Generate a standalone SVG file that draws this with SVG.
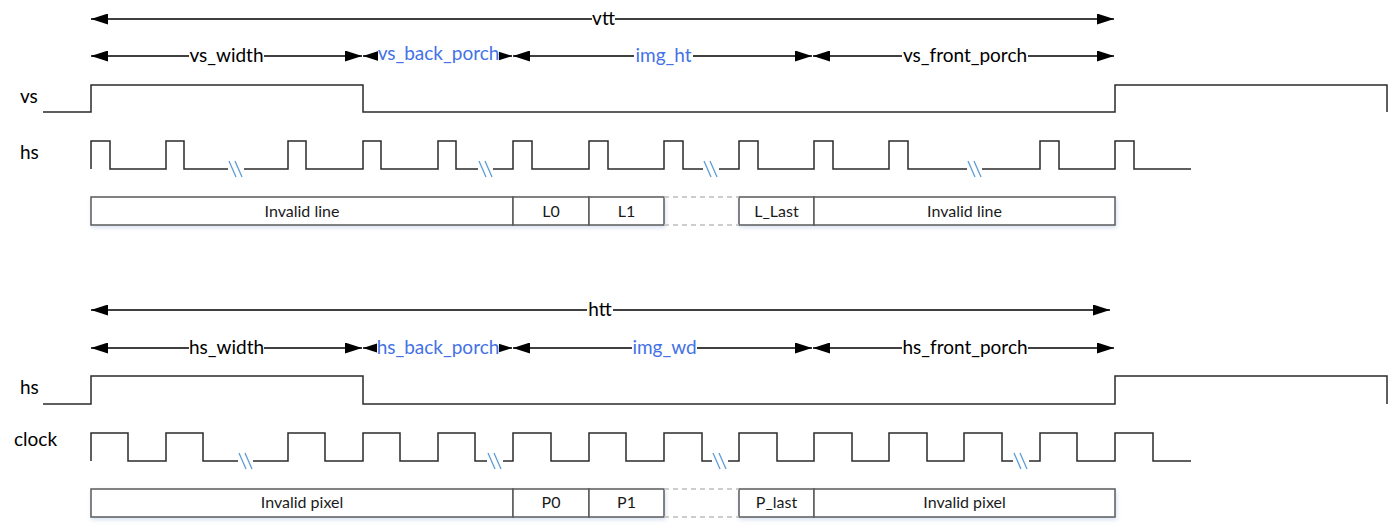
<svg xmlns="http://www.w3.org/2000/svg" width="1392" height="530" viewBox="0 0 1392 530">
<style>
  .lbl{font-family:Lato,"Open Sans","Liberation Sans",sans-serif;font-size:19px;fill:#000}
  .blue{fill:#4472E6}
  .sig{font-family:Lato,"Open Sans","Liberation Sans",sans-serif;font-size:19px;fill:#000}
  .btxt{font-family:Lato,"Open Sans","Liberation Sans",sans-serif;font-size:16px;fill:#1a1a1a;text-anchor:middle}
  .mid{text-anchor:middle}
  .wave{fill:none;stroke:#2b2b2b;stroke-width:1.5}
  .brk{stroke:#5B9BD5;stroke-width:1.3}
  .dim{stroke:#000;stroke-width:1.5;marker-start:url(#ah);marker-end:url(#ah)}
  .bg{fill:#fff}
  .box{fill:#fff;stroke:#5a5a5a;stroke-width:1.5}
  .dash{stroke:#bdbdbd;stroke-width:1.5;stroke-dasharray:5 4}
</style>
<defs>
  <marker id="ah" viewBox="0 0 17 11" refX="17" refY="5.5" markerWidth="17" markerHeight="11" markerUnits="userSpaceOnUse" orient="auto-start-reverse">
    <path d="M0,0 L17,5.5 L0,11 Z" fill="#000"/>
  </marker>
  <filter id="sh" x="-5%" y="-30%" width="110%" height="170%">
    <feDropShadow dx="1" dy="2" stdDeviation="2" flood-color="#8fa9d6" flood-opacity="0.35"/>
  </filter>
</defs>
<rect width="1392" height="530" fill="#fff"/>

<!-- connectors: dimension arrows -->
<g id="connectors">
  <line class="dim" x1="91" y1="19" x2="1114" y2="19"/>
  <line class="dim" x1="91" y1="56" x2="362" y2="56"/>
  <line class="dim" x1="363" y1="56" x2="512" y2="56"/>
  <line class="dim" x1="513" y1="56" x2="812" y2="56"/>
  <line class="dim" x1="813" y1="56" x2="1114" y2="56"/>
  <line class="dim" x1="91" y1="310" x2="1110" y2="310"/>
  <line class="dim" x1="91" y1="348" x2="362" y2="348"/>
  <line class="dim" x1="363" y1="348" x2="512" y2="348"/>
  <line class="dim" x1="513" y1="348" x2="812" y2="348"/>
  <line class="dim" x1="813" y1="348" x2="1114" y2="348"/>
</g>

<g id="dim-labels">
  <rect class="bg" x="592" y="10" width="23" height="18"/>
  <text class="lbl mid" x="603.5" y="25">vtt</text>
  <rect class="bg" x="189" y="45" width="75" height="21"/>
  <text class="lbl mid" x="226.5" y="62">vs_width</text>
  <rect class="bg" x="378" y="43" width="121" height="23"/>
  <text class="lbl mid blue" x="438.5" y="60">vs_back_porch</text>
  <rect class="bg" x="634" y="45" width="59" height="21"/>
  <text class="lbl mid blue" x="663.5" y="62">img_ht</text>
  <rect class="bg" x="902" y="45" width="126" height="21"/>
  <text class="lbl mid" x="965" y="62">vs_front_porch</text>

  <rect class="bg" x="587" y="301" width="26" height="18"/>
  <text class="lbl mid" x="600" y="316">htt</text>
  <rect class="bg" x="189" y="337" width="75" height="21"/>
  <text class="lbl mid" x="226.5" y="354">hs_width</text>
  <rect class="bg" x="377" y="337" width="122" height="21"/>
  <text class="lbl mid blue" x="438" y="354">hs_back_porch</text>
  <rect class="bg" x="632" y="337" width="65" height="21"/>
  <text class="lbl mid blue" x="664.5" y="354">img_wd</text>
  <rect class="bg" x="902" y="337" width="126" height="21"/>
  <text class="lbl mid" x="965" y="354">hs_front_porch</text>
</g>

<!-- signal names -->
<g id="sig-vs"><text class="sig" x="20" y="103">vs</text>
  <path class="wave" d="M43,112 H91 V85 H363 V112 H1115 V85 H1387 V112"/></g>
<g id="sig-hs-top"><text class="sig" x="20" y="159">hs</text>
  <path class="wave" d="M91,169 V141 H110 V169 H166 V141 H184 V169 H228 M244,169 H288 V141 H306 V169 H363 V141 H381 V169 H438 V141 H456 V169 H478 M493,169 H513 V141 H532 V169 H589 V141 H608 V169 H664 V141 H683 V169 H703 M719,169 H739 V141 H758 V169 H814 V141 H833 V169 H889 V141 H908 V169 H967 M982,169 H1040 V141 H1059 V169 H1115 V141 H1134 V169 H1191"/>
  <g class="brk">
    <line x1="229" y1="161" x2="236" y2="177"/><line x1="235" y1="161" x2="242" y2="177"/>
    <line x1="479" y1="161" x2="486" y2="177"/><line x1="485" y1="161" x2="492" y2="177"/>
    <line x1="704" y1="161" x2="711" y2="177"/><line x1="710" y1="161" x2="717" y2="177"/>
    <line x1="968" y1="161" x2="975" y2="177"/><line x1="974" y1="161" x2="981" y2="177"/>
  </g>
</g>

<g id="lines-row">
  <g filter="url(#sh)">
    <rect class="box" x="91" y="197" width="422" height="28"/>
    <rect class="box" x="513" y="197" width="76" height="28"/>
    <rect class="box" x="589" y="197" width="75" height="28"/>
    <rect class="box" x="739" y="197" width="75" height="28"/>
    <rect class="box" x="814" y="197" width="301" height="28"/>
  </g>
  <line class="dash" x1="664" y1="197" x2="739" y2="197"/>
  <line class="dash" x1="664" y1="225" x2="739" y2="225"/>
  <text class="btxt" x="302" y="217">Invalid line</text>
  <text class="btxt" x="551" y="217">L0</text>
  <text class="btxt" x="626.5" y="217">L1</text>
  <text class="btxt" x="776.5" y="217">L_Last</text>
  <text class="btxt" x="964.5" y="217">Invalid line</text>
</g>

<g id="sig-hs-bottom"><text class="sig" x="20" y="394">hs</text>
  <path class="wave" d="M43,404 H91 V376 H363 V404 H1115 V376 H1387 V404"/></g>

<g id="sig-clock"><text class="sig" x="14" y="446">clock</text>
  <path class="wave" d="M91,461 V433 H128 V461 H166 V433 H203 V461 H238 M253,461 H288 V433 H325 V461 H363 V433 H400 V461 H438 V433 H475 V461 H487 M503,461 H513 V433 H551 V461 H589 V433 H626 V461 H664 V433 H702 V461 H712 M728,461 H739 V433 H777 V461 H814 V433 H852 V461 H889 V433 H927 V461 H964 V433 H1002 V461 H1013 M1029,461 H1040 V433 H1077 V461 H1115 V433 H1153 V461 H1191"/>
  <g class="brk">
    <line x1="239" y1="453" x2="246" y2="469"/><line x1="245" y1="453" x2="252" y2="469"/>
    <line x1="488" y1="453" x2="495" y2="469"/><line x1="494" y1="453" x2="501" y2="469"/>
    <line x1="713" y1="453" x2="720" y2="469"/><line x1="719" y1="453" x2="726" y2="469"/>
    <line x1="1014" y1="453" x2="1021" y2="469"/><line x1="1020" y1="453" x2="1027" y2="469"/>
  </g>
</g>

<g id="pixels-row">
  <g filter="url(#sh)">
    <rect class="box" x="91" y="489" width="422" height="28"/>
    <rect class="box" x="513" y="489" width="76" height="28"/>
    <rect class="box" x="589" y="489" width="75" height="28"/>
    <rect class="box" x="739" y="489" width="75" height="28"/>
    <rect class="box" x="814" y="489" width="301" height="28"/>
  </g>
  <line class="dash" x1="664" y1="489" x2="739" y2="489"/>
  <line class="dash" x1="664" y1="517" x2="739" y2="517"/>
  <text class="btxt" x="302" y="508">Invalid pixel</text>
  <text class="btxt" x="551" y="508">P0</text>
  <text class="btxt" x="626.5" y="508">P1</text>
  <text class="btxt" x="776.5" y="508">P_last</text>
  <text class="btxt" x="964.5" y="508">Invalid pixel</text>
</g>
</svg>
